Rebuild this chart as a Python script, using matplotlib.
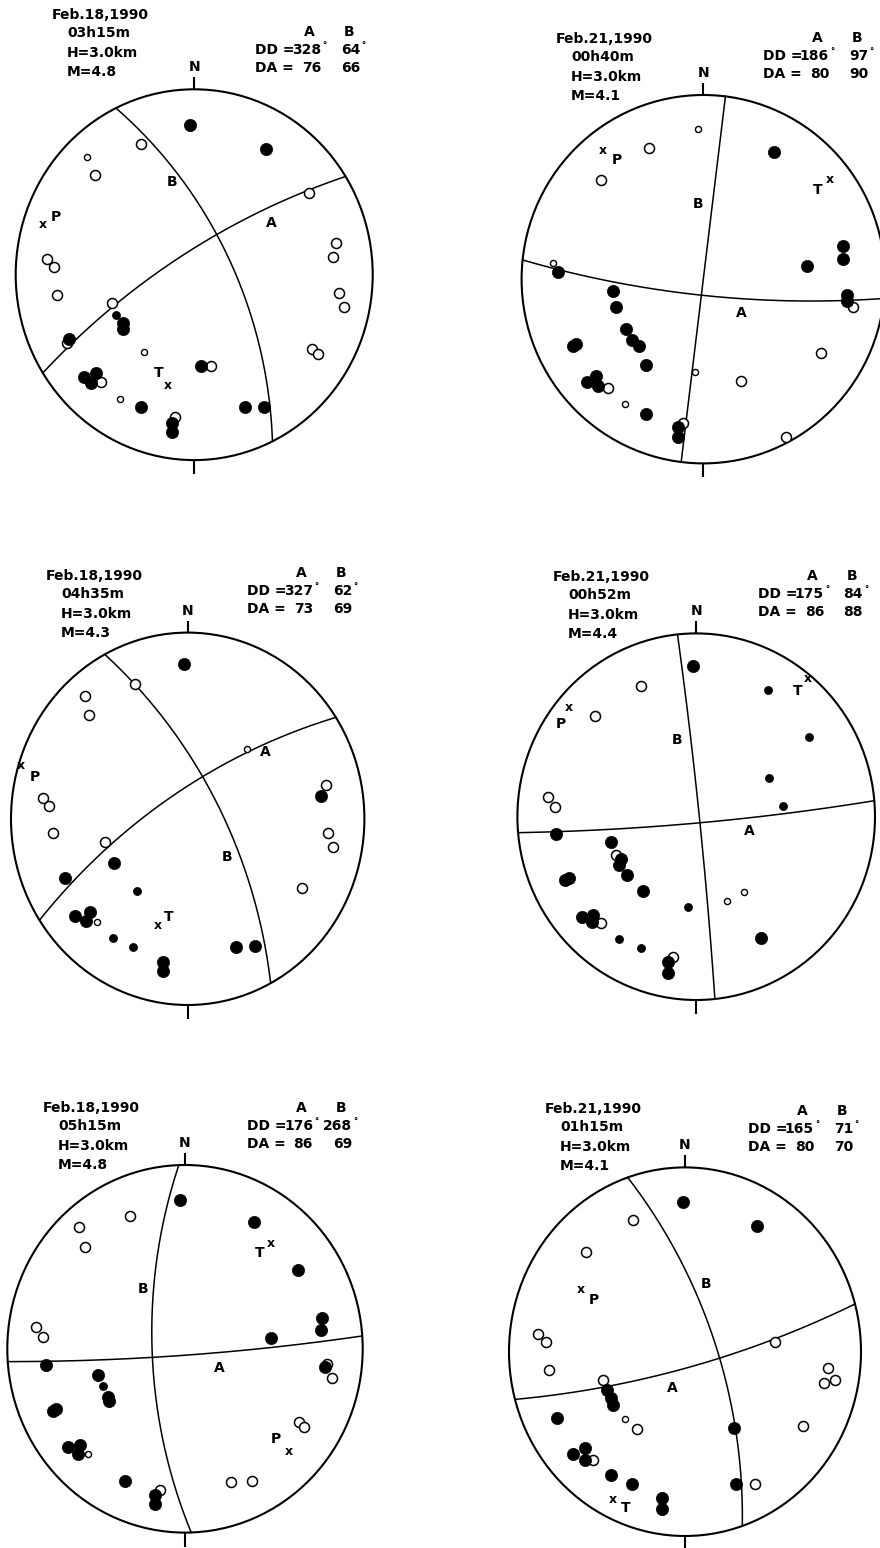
import numpy as np
import matplotlib
matplotlib.use("Agg")
import matplotlib.pyplot as plt
from matplotlib.patches import Circle

# ---------------- data ----------------
DATES = ["Feb.18,1990", "Feb.21,1990", "Feb.18,1990", "Feb.21,1990", "Feb.18,1990", "Feb.21,1990"]
TIMES = ["03h15m", "00h40m", "04h35m", "00h52m", "05h15m", "01h15m"]
DEPTH = [3.0, 3.0, 3.0, 3.0, 3.0, 3.0]
MAG = [4.8, 4.1, 4.3, 4.4, 4.8, 4.1]
DD_A = [328, 186, 327, 175, 176, 165]
DA_A = [76, 80, 73, 86, 86, 80]
DD_B = [64, 97, 62, 84, 268, 71]
DA_B = [66, 90, 69, 88, 69, 70]

# P and T axis positions (stereonet unit-circle coords, x=east, y=north)
P_AXIS = [(-0.845, 0.273), (-0.554, 0.698), (-0.945, 0.284), (-0.713, 0.595), (0.585, -0.558), (-0.593, 0.338)]
T_AXIS = [(-0.148, -0.595), (0.697, 0.539), (-0.170, -0.572), (0.624, 0.755), (0.486, 0.571), (-0.411, -0.801)]

# plane label positions
LAB_A = [(0.434, 0.28), (0.21, -0.185), (0.44, 0.36), (0.295, -0.08), (0.195, -0.105), (-0.07, -0.195)]
LAB_B = [(-0.126, 0.502), (-0.03, 0.41), (0.225, -0.205), (-0.105, 0.42), (-0.235, 0.325), (0.12, 0.365)]

# polarities: C = compression (large filled), c = small filled, D = dilatation (large open), d = small open
POL1 = [(-0.023, 0.808, "C"), (0.40, 0.68, "C"), (-0.70, -0.347, "C"), (-0.40, -0.26, "C"), (-0.40, -0.295, "C"),
        (-0.44, -0.218, "c"), (-0.62, -0.55, "C"), (-0.58, -0.583, "C"), (-0.55, -0.53, "C"), (0.038, -0.49, "C"),
        (-0.296, -0.712, "C"), (0.285, -0.716, "C"), (0.393, -0.716, "C"), (-0.126, -0.80, "C"), (-0.122, -0.847, "C"),
        (-0.524, -0.577, "D"), (0.094, -0.49, "D"), (-0.109, -0.77, "D"), (-0.296, 0.705, "D"), (-0.556, 0.538, "D"),
        (-0.602, 0.633, "d"), (-0.826, 0.083, "D"), (-0.785, 0.043, "D"), (-0.767, -0.11, "D"), (-0.462, -0.151, "D"),
        (-0.714, -0.37, "D"), (-0.279, -0.415, "d"), (-0.417, -0.673, "d"), (0.645, 0.439, "D"), (0.793, 0.169, "D"),
        (0.78, 0.097, "D"), (0.811, -0.10, "D"), (0.839, -0.173, "D"), (0.658, -0.403, "D"), (0.696, -0.428, "D")]
POL2 = [(-0.03, 0.815, "d"), (-0.30, 0.71, "D"), (-0.565, 0.54, "D"), (-0.825, 0.087, "d"), (0.825, -0.15, "D"),
        (0.65, -0.40, "D"), (0.21, -0.555, "D"), (-0.046, -0.505, "d"), (-0.527, -0.59, "D"), (-0.43, -0.68, "d"),
        (-0.11, -0.78, "D"), (0.455, -0.855, "D"),
        (0.39, 0.69, "C"), (0.77, 0.18, "C"), (0.77, 0.11, "C"), (0.57, 0.07, "C"), (0.79, -0.085, "C"),
        (0.79, -0.12, "C"), (-0.80, 0.04, "C"), (-0.495, -0.063, "C"), (-0.48, -0.15, "C"), (-0.425, -0.27, "C"),
        (-0.39, -0.33, "C"), (-0.355, -0.365, "C"), (-0.315, -0.465, "C"), (-0.715, -0.365, "C"), (-0.70, -0.35, "C"),
        (-0.64, -0.56, "C"), (-0.59, -0.525, "C"), (-0.58, -0.58, "C"), (-0.315, -0.73, "C"), (-0.14, -0.805, "C"),
        (-0.14, -0.855, "C")]
POL3 = [(-0.02, 0.83, "C"), (0.755, 0.12, "C"), (-0.415, -0.24, "C"), (-0.695, -0.32, "C"), (-0.285, -0.39, "c"),
        (-0.64, -0.52, "C"), (-0.575, -0.55, "C"), (-0.555, -0.50, "C"), (-0.425, -0.64, "c"), (-0.31, -0.69, "c"),
        (-0.14, -0.77, "C"), (-0.14, -0.82, "C"), (0.275, -0.69, "C"), (0.38, -0.685, "C"),
        (-0.30, 0.725, "D"), (-0.58, 0.66, "D"), (-0.56, 0.56, "D"), (0.335, 0.375, "d"), (0.78, 0.18, "D"),
        (-0.82, 0.11, "D"), (-0.785, 0.07, "D"), (-0.765, -0.077, "D"), (-0.47, -0.125, "D"), (0.795, -0.077, "D"),
        (0.82, -0.15, "D"), (0.645, -0.37, "D"), (-0.515, -0.555, "d")]
POL4 = [(-0.02, 0.82, "C"), (0.40, 0.69, "c"), (0.63, 0.435, "c"), (0.405, 0.21, "c"), (0.485, 0.06, "c"),
        (-0.785, -0.096, "C"), (-0.475, -0.14, "C"), (-0.42, -0.23, "C"), (-0.43, -0.265, "C"), (-0.385, -0.32, "C"),
        (-0.735, -0.345, "C"), (-0.71, -0.335, "C"), (-0.295, -0.405, "C"), (-0.047, -0.495, "c"), (-0.64, -0.545, "C"),
        (-0.585, -0.575, "C"), (-0.575, -0.535, "C"), (-0.43, -0.665, "c"), (-0.31, -0.715, "c"), (-0.155, -0.79, "C"),
        (-0.155, -0.85, "C"), (0.365, -0.66, "C"),
        (-0.31, 0.715, "D"), (-0.565, 0.55, "D"), (-0.83, 0.11, "D"), (-0.79, 0.055, "D"), (-0.45, -0.21, "D"),
        (-0.53, -0.58, "D"), (-0.13, -0.765, "D"), (0.265, -0.41, "d"), (0.17, -0.46, "d")]
POL5 = [(-0.026, 0.81, "C"), (0.39, 0.69, "C"), (0.635, 0.43, "C"), (0.77, 0.17, "C"), (0.765, 0.10, "C"),
        (0.485, 0.058, "C"), (0.79, -0.10, "C"), (-0.785, -0.087, "C"), (-0.49, -0.14, "C"), (-0.46, -0.20, "c"),
        (-0.435, -0.26, "C"), (-0.43, -0.285, "C"), (-0.745, -0.34, "C"), (-0.725, -0.33, "C"), (-0.66, -0.535, "C"),
        (-0.59, -0.525, "C"), (-0.60, -0.57, "C"), (-0.335, -0.72, "C"), (-0.17, -0.795, "C"), (-0.17, -0.845, "C"),
        (-0.31, 0.72, "D"), (-0.595, 0.665, "D"), (-0.56, 0.555, "D"), (-0.84, 0.12, "D"), (-0.80, 0.063, "D"),
        (0.80, -0.08, "D"), (0.83, -0.16, "D"), (0.64, -0.40, "D"), (0.67, -0.425, "D"), (-0.545, -0.575, "d"),
        (-0.14, -0.77, "D"), (0.26, -0.725, "D"), (0.375, -0.72, "D")]
POL6 = [(-0.01, 0.81, "C"), (0.41, 0.68, "C"), (-0.73, -0.36, "C"), (-0.445, -0.21, "C"), (-0.42, -0.25, "C"),
        (-0.41, -0.29, "C"), (-0.635, -0.555, "C"), (-0.57, -0.525, "C"), (-0.57, -0.585, "C"), (-0.42, -0.67, "C"),
        (-0.30, -0.72, "C"), (-0.13, -0.795, "C"), (-0.13, -0.855, "C"), (0.28, -0.415, "C"), (0.29, -0.72, "C"),
        (-0.295, 0.715, "D"), (-0.56, 0.54, "D"), (-0.835, 0.094, "D"), (-0.79, 0.05, "D"), (-0.775, -0.10, "D"),
        (-0.465, -0.155, "D"), (-0.34, -0.365, "d"), (-0.27, -0.42, "D"), (-0.52, -0.585, "D"), (0.51, 0.05, "D"),
        (0.815, -0.087, "D"), (0.85, -0.155, "D"), (0.79, -0.17, "D"), (0.67, -0.405, "D"), (0.40, -0.72, "D")]
POLS = [POL1, POL2, POL3, POL4, POL5, POL6]

# ---------------- layout (pixels) ----------------
W, H = 880, 1548
# circle centre x, centre y, radius x, radius y
PANEL_BOX = [(194.2, 274.7, 178.5, 185.4), (703.3, 279.2, 181.7, 184.2),
             (187.7, 818.8, 176.7, 186.2), (696.2, 816.7, 178.8, 183.3),
             (185.0, 1348.8, 177.7, 183.8), (685.0, 1351.7, 176.0, 184.3)]
LEFT_HDR = [(52, 15), (556, 39), (46, 576), (553, 577), (43, 1108), (545, 1109)]
RIGHT_HDR = [(255, 32), (763, 38), (247, 573), (758, 576), (247, 1108), (748, 1111)]
P_OFF = [(13, 7), (14, -9), (14, -11), (-8, -16), (-13, 12), (13, -11)]
T_OFF = [(-9, 12), (-12, -10), (11, 8), (-10, -13), (-12, -9), (13, -9)]

FS = 10
BOLD = dict(fontweight="bold", family="DejaVu Sans", color="black")

fig = plt.figure(figsize=(W / 100, H / 100), dpi=100)
fig.patch.set_facecolor("white")


def ftext(x, y, s, ha="left", fs=FS, **kw):
    fig.text(x / W, 1 - y / H, s, ha=ha, va="center", fontsize=fs, **BOLD, **kw)


def plane_curve(dd, da, n=300):
    """Great circle of a plane (dip direction dd, dip da), lower-hemisphere stereographic projection."""
    ddr, dar = np.radians(dd), np.radians(da)
    st = ddr - np.pi / 2
    s = np.array([np.cos(st), np.sin(st), 0.0])
    d = np.array([np.cos(dar) * np.cos(ddr), np.cos(dar) * np.sin(ddr), np.sin(dar)])
    t = np.linspace(0, np.pi, n)
    v = np.outer(np.cos(t), s) + np.outer(np.sin(t), d)
    nn, ee, zz = v[:, 0], v[:, 1], v[:, 2]
    return ee / (1 + zz), nn / (1 + zz)


for i in range(6):
    cx, cy, rx, ry = PANEL_BOX[i]
    ax = fig.add_axes([(cx - rx) / W, 1 - (cy + ry) / H, 2 * rx / W, 2 * ry / H])
    ax.set_xlim(-1, 1)
    ax.set_ylim(-1, 1)
    ax.axis("off")

    ax.add_patch(Circle((0, 0), 1, fill=False, edgecolor="black", lw=1.5, clip_on=False))
    ax.plot([0, 0], [1, 1 + 12 / ry], color="black", lw=1.5, clip_on=False, solid_capstyle="butt")
    ax.plot([0, 0], [-1, -1 - 14 / ry], color="black", lw=1.5, clip_on=False, solid_capstyle="butt")
    ax.text(0, 1 + 22 / ry, "N", ha="center", va="center", fontsize=FS, **BOLD)

    for dd, da in ((DD_A[i], DA_A[i]), (DD_B[i], DA_B[i])):
        x, y = plane_curve(dd, da)
        ax.plot(x, y, color="black", lw=1.1, clip_on=False)

    pts = POLS[i]
    for kind, ms, mew in (("D", 7.2, 1.1), ("d", 4.4, 1.0)):
        xs = [p[0] for p in pts if p[2] == kind]
        ys = [p[1] for p in pts if p[2] == kind]
        ax.plot(xs, ys, "o", ms=ms, mfc="white", mec="black", mew=mew, ls="none", clip_on=False, zorder=3)
    for kind, ms in (("C", 8.8), ("c", 5.8)):
        xs = [p[0] for p in pts if p[2] == kind]
        ys = [p[1] for p in pts if p[2] == kind]
        ax.plot(xs, ys, "o", ms=ms, mfc="black", mec="black", mew=0.5, ls="none", clip_on=False, zorder=4)

    for (px, py), off, lab in ((P_AXIS[i], P_OFF[i], "P"), (T_AXIS[i], T_OFF[i], "T")):
        ax.text(px, py, "x", ha="center", va="center", fontsize=9, **BOLD)
        ax.annotate(lab, xy=(px, py), xytext=off, textcoords="offset pixels",
                    ha="center", va="center", fontsize=FS, **BOLD)
    ax.text(*LAB_A[i], "A", ha="center", va="center", fontsize=FS, **BOLD)
    ax.text(*LAB_B[i], "B", ha="center", va="center", fontsize=FS, **BOLD)

    # left header
    lx, ly = LEFT_HDR[i]
    ftext(lx, ly, DATES[i])
    ftext(lx + 15, ly + 18, TIMES[i])
    ftext(lx + 15, ly + 38, f"H={DEPTH[i]:.1f}km")
    ftext(lx + 15, ly + 57, f"M={MAG[i]:.1f}")

    # right header
    rxh, ryh = RIGHT_HDR[i]
    ftext(rxh + 54, ryh, "A", ha="center")
    ftext(rxh + 94, ryh, "B", ha="center")
    ftext(rxh, ryh + 18, "DD =")
    ftext(rxh + 66, ryh + 18, f"{DD_A[i]}", ha="right")
    ftext(rxh + 67, ryh + 14, "°", fs=6)
    ftext(rxh + 105, ryh + 18, f"{DD_B[i]}", ha="right")
    ftext(rxh + 106, ryh + 14, "°", fs=6)
    ftext(rxh, ryh + 36, "DA =")
    ftext(rxh + 66, ryh + 36, f"{DA_A[i]}", ha="right")
    ftext(rxh + 105, ryh + 36, f"{DA_B[i]}", ha="right")

fig.savefig("out.png", dpi=100, facecolor="white")
